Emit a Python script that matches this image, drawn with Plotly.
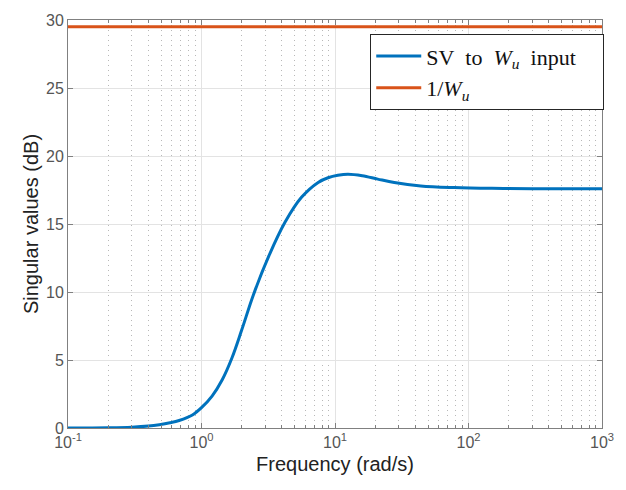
import plotly.graph_objects as go

freq = [0.1, 0.2, 0.3, 0.4, 0.483, 0.58, 0.68, 0.855, 1.0, 1.2, 1.43, 1.69, 2.0, 2.45, 3.18,
        4.23, 5.61, 7.48, 8.87, 10.5, 12.5, 16, 20.9, 27.8, 43.9, 77.6, 150, 300, 1000]
sv_db = [0.0, 0.02, 0.06, 0.14, 0.24, 0.38, 0.55, 0.96, 1.5, 2.35, 3.55, 5.15, 7.2, 9.8, 12.6,
         15.14, 16.96, 18.06, 18.4, 18.58, 18.66, 18.55, 18.3, 18.05, 17.8, 17.68, 17.62, 17.6, 17.6]
wu_freq = [0.1, 1000]
wu_db = [29.5, 29.5]

xtick_vals = [0.1, 1, 10, 100, 1000]
xtick_text = ["10<sup>-1</sup>", "10<sup>0</sup>", "10<sup>1</sup>", "10<sup>2</sup>", "10<sup>3</sup>"]
ytick_vals = [0, 5, 10, 15, 20, 25, 30]

fig = go.Figure()
fig.add_trace(go.Scatter(x=freq, y=sv_db, mode="lines",
                         line=dict(color="#0072BD", width=3, shape="spline", smoothing=1.0),
                         name="SV&nbsp; to&nbsp; <i>W<sub>u</sub></i>&nbsp; input&nbsp;&nbsp;&nbsp;&nbsp;"))
fig.add_trace(go.Scatter(x=wu_freq, y=wu_db, mode="lines", line=dict(color="#D95319", width=3),
                         name="1/<i>W<sub>u</sub></i>"))

axis_common = dict(showline=True, linecolor="#808080", linewidth=1, mirror="ticks", ticks="inside",
                   ticklen=5, tickcolor="#808080", showgrid=True, gridcolor="#e3e3e3", gridwidth=1,
                   zeroline=False, tickfont=dict(family="Liberation Sans, Arial", size=16, color="#555555"),
                   title_font=dict(family="Liberation Sans, Arial", size=20, color="#222222"))

fig.update_xaxes(type="log", range=[-1, 3], tickvals=xtick_vals, ticktext=xtick_text,
                 title_text="Frequency (rad/s)", title_standoff=6,
                 minor=dict(ticks="inside", ticklen=3, tickcolor="#808080", showgrid=True,
                            griddash="1px,4px", gridcolor="#b8b8b8", dtick="D1"),
                 **axis_common)
fig.update_yaxes(range=[0, 30], tickvals=ytick_vals, title_text="Singular values (dB)", title_standoff=2,
                 **axis_common)

fig.update_layout(width=626, height=490, margin=dict(l=68, r=21, t=17, b=62),
                  plot_bgcolor="white", paper_bgcolor="white",
                  legend=dict(x=0.566, y=0.965, xanchor="left", yanchor="top", bgcolor="white",
                              bordercolor="#262626", borderwidth=1,
                              font=dict(family="Liberation Serif, Times New Roman", size=22, color="#111111"),
                              tracegroupgap=0, itemwidth=45))

fig.write_html("out.html", config={"displayModeBar": False},
               post_script="document.body.style.margin='0px';")
